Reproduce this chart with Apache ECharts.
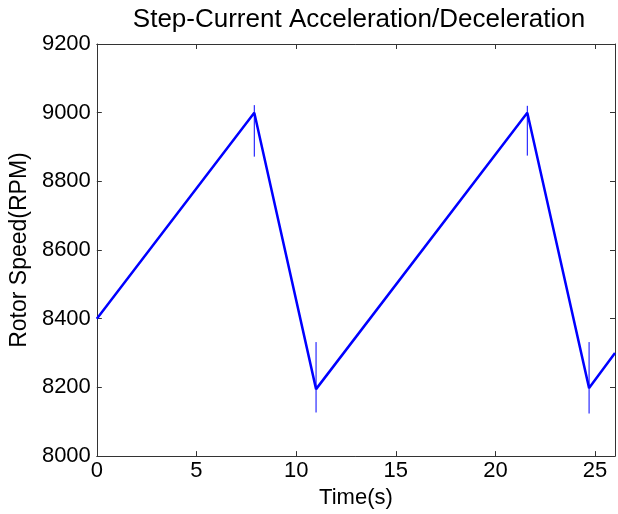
<!DOCTYPE html>
<html>
<head>
<meta charset="utf-8">
<script src="https://cdn.jsdelivr.net/npm/echarts@6/dist/echarts.min.js"></script>
<style>html,body{margin:0;padding:0;background:#fff;}#c{width:618px;height:514px;}</style>
</head>
<body>
<div id="c"></div>
<script>
// Data
const mainTime  = [0, 7.9, 11.0, 21.6, 24.7, 26];
const mainSpeed = [8400, 9000, 8195, 9000, 8198, 8300];
const spikeTime = [7.9, 11.0, 21.6, 24.7];
const spikeHigh = [9022, 8332, 9020, 8332];
const spikeLow  = [8872, 8127, 8875, 8124];
const xTicks = [0, 5, 10, 15, 20, 25];
const yTicks = [8000, 8200, 8400, 8600, 8800, 9000, 9200];

const chart = echarts.init(document.getElementById('c'), null, {renderer: 'canvas'});
const font = 'Liberation Sans, Arial, sans-serif';
const axisColor = '#333';
const mainData = mainTime.map((t, i) => [t, mainSpeed[i]]);
const spikeSeries = spikeTime.map((t, i) => ({
  type: 'line', xAxisIndex: 0, yAxisIndex: 0, symbol: 'none', silent: true,
  lineStyle: {color: '#0000ff', width: 1},
  data: [[t, spikeHigh[i]], [t, spikeLow[i]]]
}));
const xCommon = {type: 'value', min: 0, max: 26, interval: 5,
  axisLine: {show: true, onZero: false, lineStyle: {color: axisColor, width: 1}},
  axisTick: {show: true, inside: true, length: 5, lineStyle: {color: axisColor}},
  splitLine: {show: false}};
const yCommon = {type: 'value', min: 8000, max: 9200, interval: 200,
  axisLine: {show: true, onZero: false, lineStyle: {color: axisColor, width: 1}},
  axisTick: {show: true, inside: true, length: 5, lineStyle: {color: axisColor}},
  splitLine: {show: false}};

chart.setOption({
  animation: false,
  backgroundColor: '#fff',
  title: {text: 'Step-Current Acceleration/Deceleration', left: 354, top: 2, textAlign: 'center',
    textStyle: {fontFamily: font, fontWeight: 'normal', fontSize: 26, color: '#000'}},
  grid: {left: 96, right: 1, top: 44, bottom: 54, containLabel: false},
  xAxis: [
    Object.assign({}, xCommon, {position: 'bottom', name: 'Time(s)', nameLocation: 'middle', nameGap: 26,
      nameTextStyle: {fontFamily: font, fontSize: 22, color: '#000'},
      axisLabel: {show: true, margin: 4, fontFamily: font, fontSize: 22, color: '#000',
        formatter: v => xTicks.includes(v) ? String(v) : ''}}),
    Object.assign({}, xCommon, {position: 'top', axisLabel: {show: false}})
  ],
  yAxis: [
    Object.assign({}, yCommon, {position: 'left', name: 'Rotor Speed(RPM)', nameLocation: 'middle', nameGap: 64,
      nameTextStyle: {fontFamily: font, fontSize: 23, color: '#000'},
      axisLabel: {show: true, margin: 6, fontFamily: font, fontSize: 22, color: '#000',
        formatter: v => yTicks.includes(v) ? String(v) : ''}}),
    Object.assign({}, yCommon, {position: 'right', axisLabel: {show: false}})
  ],
  series: [{
    type: 'line', xAxisIndex: 0, yAxisIndex: 0, symbol: 'none', silent: true,
    lineStyle: {color: '#0000ff', width: 2.5},
    data: mainData
  }].concat(spikeSeries)
});
</script>
</body>
</html>
